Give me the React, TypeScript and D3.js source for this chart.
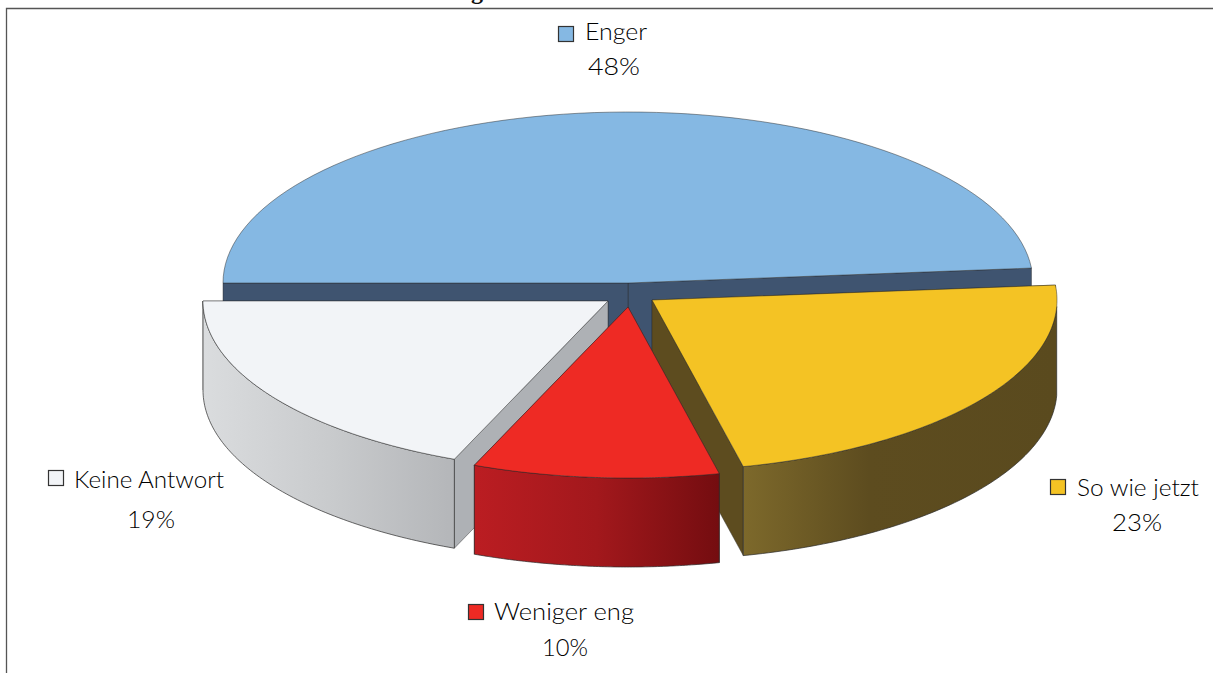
import React from "react";
import * as d3 from "d3";

// Survey answers, in drawing order round the pie (clockwise from the left).
const categories = ["Enger", "So wie jetzt", "Weniger eng", "Keine Antwort"];
const shares = [48, 23, 10, 19];
const topColors = ["#85b8e3", "#f4c324", "#ee2a24", "#f2f4f7"];
const cutColors = ["#3f5470", "#5d4c1f", "#8f1418", "#aeb1b5"];
const rimStart = ["#3f5470", "#7d692b", "#bb1d22", "#dadcde"];
const rimMid = ["#3f5470", "#5d4c1f", "#a2181c", "#c9cbcd"];
const rimEnd = ["#3f5470", "#5a4a1e", "#740d10", "#b4b6b9"];

const WIDTH = 1213;
const HEIGHT = 673;
const RX = 405;
const RY = 171;
const DEPTH = 89;
const START = -Math.PI / 2;

// Apex of each exploded slice on the upper face.
const apexX = [628, 652, 628, 608];
const apexY = [283, 300, 307, 301];

// Slices are painted back to front.
const paintOrder = [0, 1, 3, 2];

// Label blocks: swatch corner, first line start and width, second line start and width.
const legendBoxes = [
  { sx: 558, sy: 26, tx: 585, ty: 40, tw: 62, vx: 588, vy: 75, vw: 52 },
  { sx: 1050, sy: 479, tx: 1077, ty: 496, tw: 122, vx: 1112, vy: 531, vw: 50 },
  { sx: 468, sy: 604, tx: 494, ty: 620, tw: 140, vx: 542, vy: 656, vw: 46 },
  { sx: 48, sy: 470, tx: 74, ty: 488, tw: 150, vx: 127, vy: 528, vw: 48 },
];

const arcs = d3
  .pie<number>()
  .sort(null)
  .value((d) => d)
  .startAngle(START)
  .endAngle(START + 2 * Math.PI)(shares);

// The tilted view pushes the right-hand side of the disc slightly clockwise.
const view = (a: number) => a + ((1.1 * Math.PI) / 180) * (1 + Math.sin(a));

const px = (a: number, i: number) => apexX[i] + RX * Math.sin(view(a));
const py = (a: number, i: number, dy = 0) => apexY[i] - RY * Math.cos(view(a)) + dy;

// Elliptical rim sampled along the slice's angular span.
const rimPoints = (a0: number, a1: number, i: number, dy = 0): [number, number][] =>
  d3.range(0, 1.0001, 1 / 80).map((t) => {
    const a = a0 + (a1 - a0) * t;
    return [px(a, i), py(a, i, dy)] as [number, number];
  });

const line = d3.line();

const topPath = (a0: number, a1: number, i: number) =>
  line([[apexX[i], apexY[i]], ...rimPoints(a0, a1, i)]) + "Z";

// Outer wall, only where the rim faces the viewer (between 90 and 270 degrees).
const wallPath = (a0: number, a1: number, i: number) => {
  const lo = Math.max(a0, Math.PI / 2);
  const hi = Math.min(a1, (3 * Math.PI) / 2);
  if (lo >= hi) return null;
  return line([...rimPoints(lo, hi, i), ...rimPoints(lo, hi, i, DEPTH).reverse()]) + "Z";
};

// Flat radial cut running from the apex to the rim at angle a.
const cutPath = (a: number, i: number) => {
  const x = px(a, i);
  const y = py(a, i);
  return (
    line([
      [apexX[i], apexY[i]],
      [x, y],
      [x, y + DEPTH],
      [apexX[i], apexY[i] + DEPTH],
    ]) + "Z"
  );
};

export default function App() {
  return (
    <svg
      width={WIDTH}
      height={HEIGHT}
      viewBox={`0 0 ${WIDTH} ${HEIGHT}`}
      style={{ position: "absolute", left: 0, top: 0, display: "block", background: "#fff" }}
    >
      <defs>
        {categories.map((c, i) => (
          <linearGradient key={c} id={`rim-${i}`} x1="0" x2="1" y1="0" y2="0">
            <stop offset="0" stopColor={rimStart[i]} />
            <stop offset={i === 1 ? "0.4" : "0.5"} stopColor={rimMid[i]} />
            <stop offset="1" stopColor={rimEnd[i]} />
          </linearGradient>
        ))}
      </defs>

      <path d="M6.5 673V8.5H1213" fill="none" stroke="#555" strokeWidth={1.3} />
      <text
        x={477}
        y={-1}
        textAnchor="middle"
        fontFamily="Liberation Serif"
        fontWeight="bold"
        fontSize={24}
        fill="#111"
      >
        g
      </text>

      {paintOrder.map((i) => {
        const { startAngle: a0, endAngle: a1 } = arcs[i];
        const wall = wallPath(a0, a1, i);
        const stroke = "#2b2b2b";
        // The cut lying further back goes first so the nearer one covers it.
        const cuts = [a0, a1].sort((p, q) => py(p, i) - py(q, i));
        return (
          <g key={categories[i]}>
            {cuts.map((a) => (
              <path
                key={a}
                d={cutPath(a, i)}
                fill={cutColors[i]}
                stroke={stroke}
                strokeOpacity={0.55}
                strokeWidth={0.8}
              />
            ))}
            {wall && (
              <path d={wall} fill={`url(#rim-${i})`} stroke={stroke} strokeOpacity={0.7} strokeWidth={1} />
            )}
            <path d={topPath(a0, a1, i)} fill={topColors[i]} stroke={stroke} strokeOpacity={0.6} strokeWidth={0.8} />
          </g>
        );
      })}

      {categories.map((c, i) => {
        const b = legendBoxes[i];
        return (
          <g key={c} fontFamily="Lato" fontWeight={300} fontSize={24} fill="#000">
            <rect x={b.sx + 0.5} y={b.sy + 0.5} width={15} height={15} fill={topColors[i]} stroke="#333" strokeWidth={1.2} />
            <text x={b.tx} y={b.ty} textLength={b.tw} lengthAdjust="spacingAndGlyphs">
              {c}
            </text>
            <text x={b.vx} y={b.vy} textLength={b.vw} lengthAdjust="spacingAndGlyphs">
              {shares[i]}%
            </text>
          </g>
        );
      })}
    </svg>
  );
}
